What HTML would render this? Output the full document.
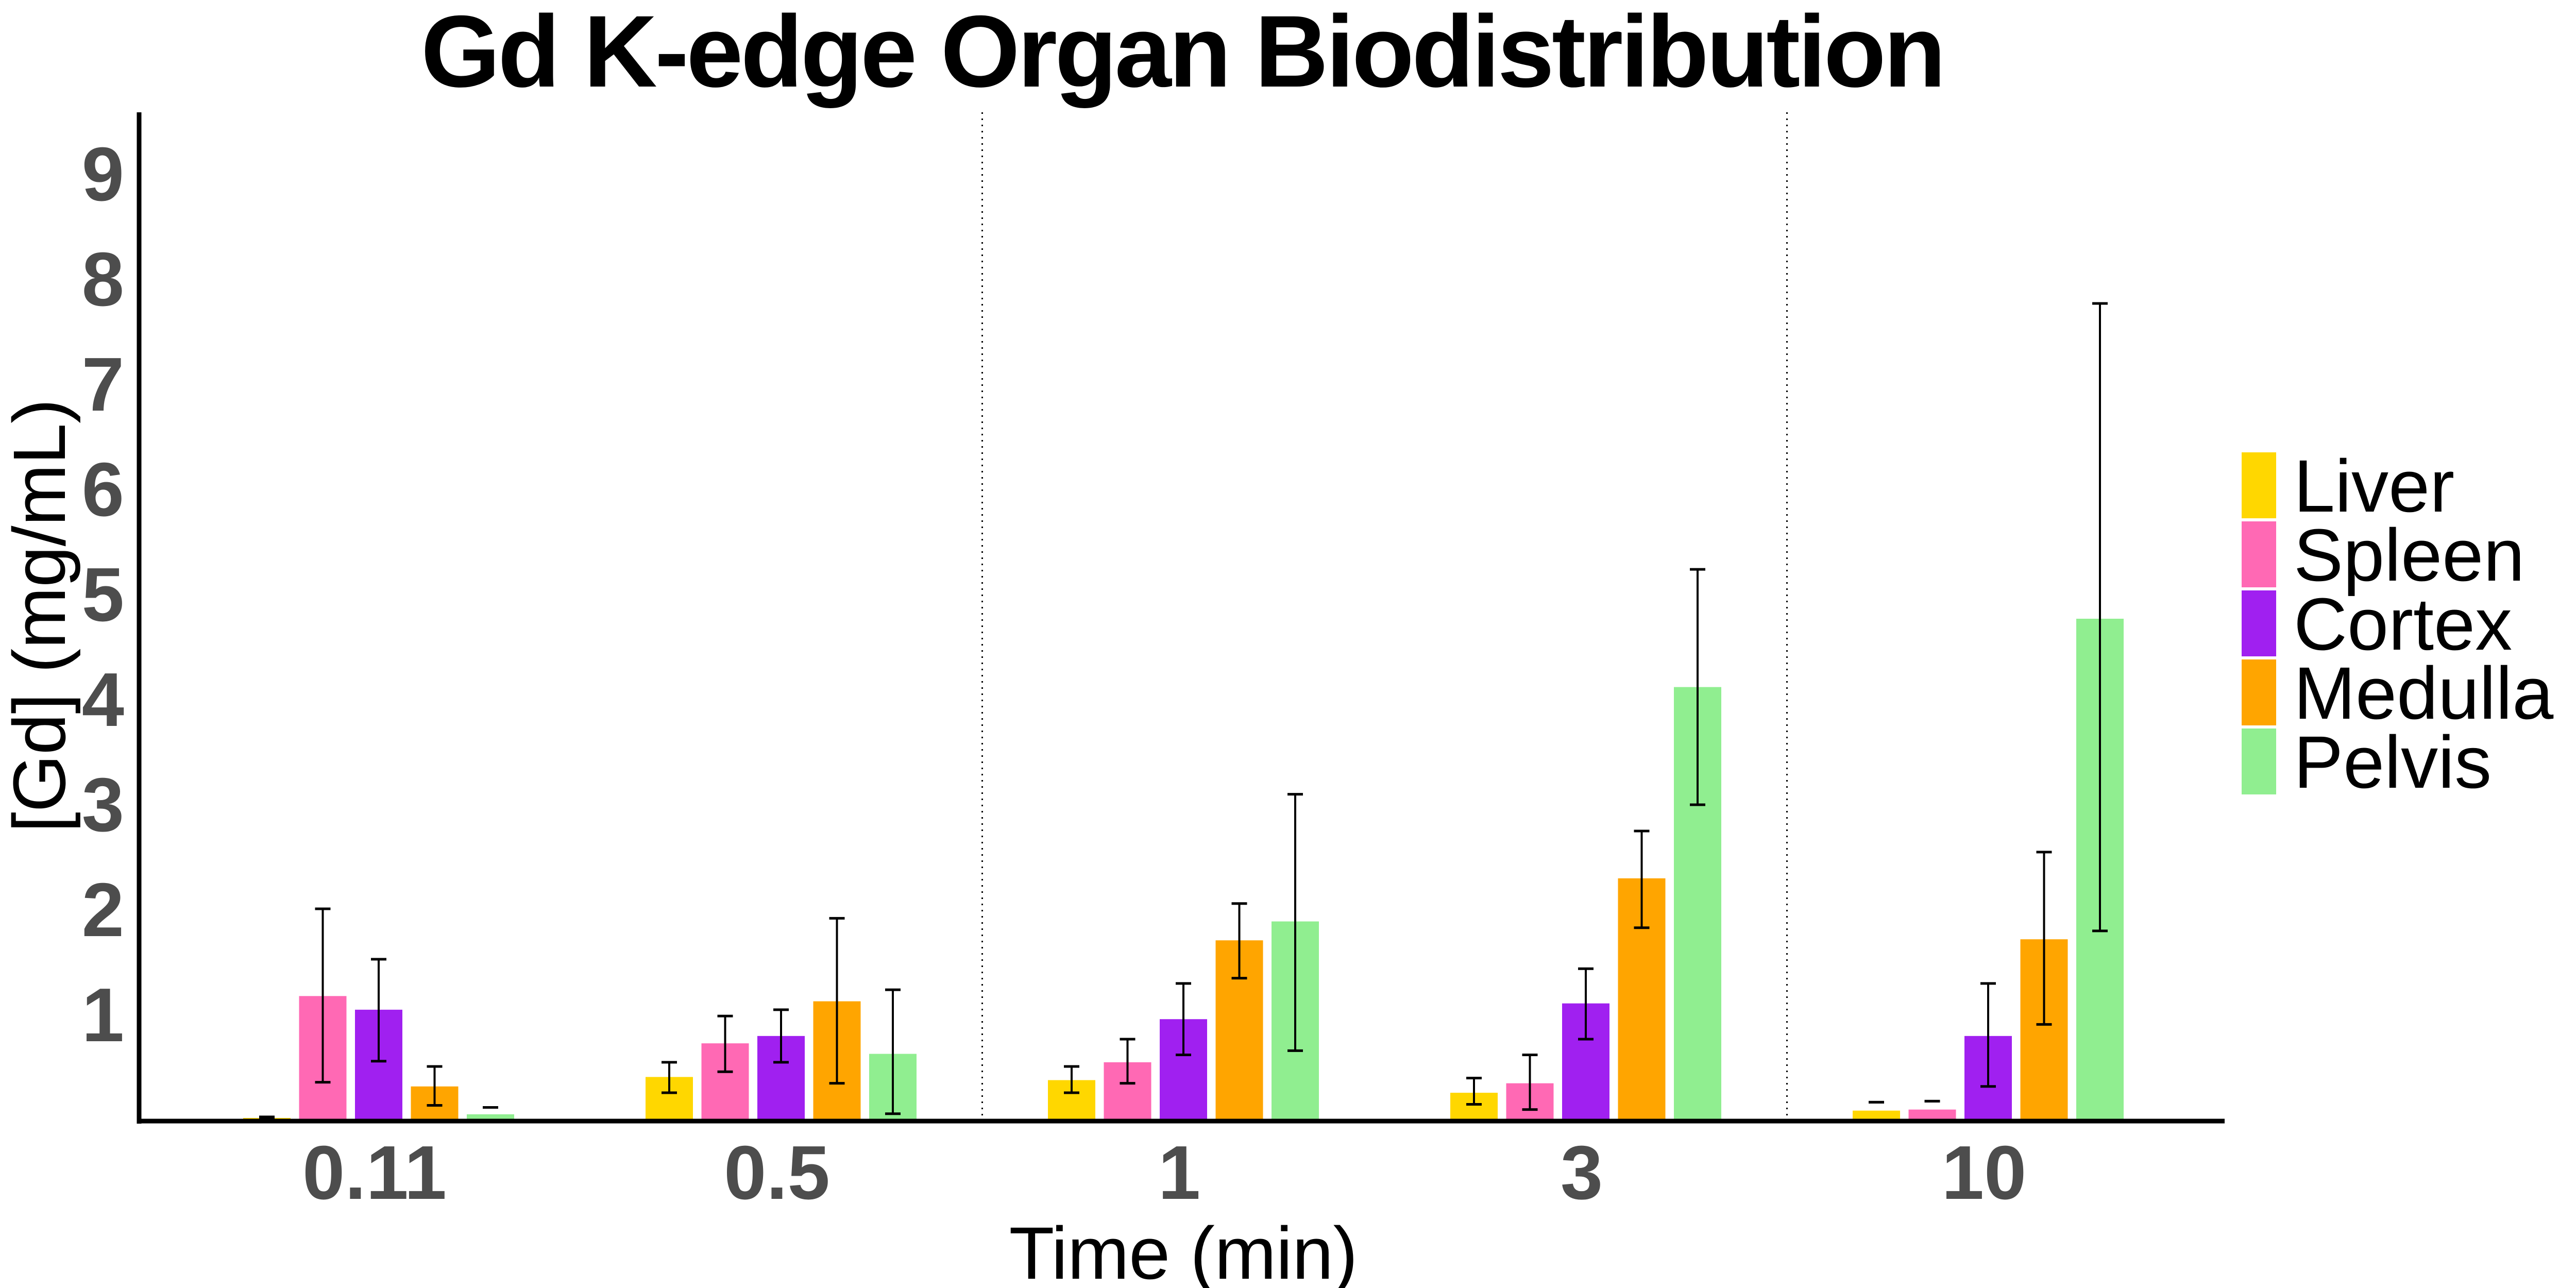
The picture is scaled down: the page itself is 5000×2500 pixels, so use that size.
<!DOCTYPE html>
<html><head><meta charset="utf-8"><style>
html,body{margin:0;padding:0;background:#fff;}
svg{display:block;}
</style></head><body>
<svg id="chart" xmlns="http://www.w3.org/2000/svg" width="5000" height="2500" viewBox="0 0 5000 2500">
<rect x="0" y="0" width="5000" height="2500" fill="#fff"/>
<text x="2297" y="168" text-anchor="middle" font-family="Liberation Sans, sans-serif" font-weight="bold" font-size="198" textLength="2960">Gd K-edge Organ Biodistribution</text>
<text transform="translate(126,1195) rotate(-90)" text-anchor="middle" font-family="Liberation Sans, sans-serif" font-size="144" textLength="842">[Gd] (mg/mL)</text>
<text x="2297" y="2482" text-anchor="middle" font-family="Liberation Sans, sans-serif" font-size="144" textLength="677">Time (min)</text>
<g id="plot"></g>
<g id="legend"></g>
</svg>
<script>
const categories = ["0.11", "0.5", "1", "3", "10"];
const seriesNames = ["Liver", "Spleen", "Cortex", "Medulla", "Pelvis"];
const liverVals   = [0.01, 0.40, 0.37, 0.25, 0.08];
const spleenVals  = [1.17, 0.72, 0.54, 0.34, 0.09];
const cortexVals  = [1.04, 0.79, 0.95, 1.10, 0.79];
const medullaVals = [0.31, 1.12, 1.70, 2.29, 1.71];
const pelvisVals  = [0.045, 0.62, 1.88, 4.11, 4.76];
const liverHi   = [0.02, 0.54, 0.50, 0.39, 0.16];
const liverLo   = [0.01, 0.25, 0.25, 0.14, 0.16];
const spleenHi  = [2.00, 0.98, 0.76, 0.61, 0.17];
const spleenLo  = [0.35, 0.45, 0.34, 0.09, 0.17];
const cortexHi  = [1.52, 1.04, 1.29, 1.43, 1.29];
const cortexLo  = [0.55, 0.54, 0.61, 0.76, 0.31];
const medullaHi = [0.50, 1.91, 2.05, 2.74, 2.54];
const medullaLo = [0.13, 0.34, 1.34, 1.82, 0.90];
const pelvisHi  = [0.11, 1.23, 3.09, 5.23, 7.76];
const pelvisLo  = [0.11, 0.05, 0.65, 2.99, 1.79];
const yTicks = [1, 2, 3, 4, 5, 6, 7, 8, 9];
const separatorsAfter = [1, 3];

const colors = ["#FFD700", "#FF69B4", "#A020F0", "#FFA500", "#90EE90"];
const values = [liverVals, spleenVals, cortexVals, medullaVals, pelvisVals];
const his = [liverHi, spleenHi, cortexHi, medullaHi, pelvisHi];
const los = [liverLo, spleenLo, cortexLo, medullaLo, pelvisLo];

const NS = "http://www.w3.org/2000/svg";
const plot = document.getElementById("plot");
const Y0 = 2172, UNIT = 204, X0 = 735, GROUP = 781, PITCH = 108.5, BW = 92;
function yScale(v){ return Y0 - v * UNIT; }
function xGroup(i){ return X0 + i * GROUP; }
function mk(tag, attrs, parent){
  const e = document.createElementNS(NS, tag);
  for (const k in attrs) e.setAttribute(k, attrs[k]);
  (parent || plot).appendChild(e);
  return e;
}

separatorsAfter.forEach(function(i){
  const x = (xGroup(i) + xGroup(i + 1)) / 2;
  const l = mk("line", {x1:x, x2:x, y1:218, y2:Y0, stroke:"#000", "stroke-width":3, "stroke-dasharray":"3,9"});
  
  
});

for (let s = 0; s < seriesNames.length; s++){
  for (let i = 0; i < categories.length; i++){
    const cx = xGroup(i) + (s - 2) * PITCH;
    const v = values[s][i];
    const r = mk("rect", {x:cx - BW/2, y:yScale(v), width:BW, height:Math.max(0, Y0 - yScale(v)), fill:colors[s]});
    
    
    const yh = yScale(his[s][i]), yl = yScale(los[s][i]);
    const g = mk("g", {stroke:"#000"});
    
    
    mk("line", {x1:cx, x2:cx, y1:yh, y2:yl, "stroke-width":4}, g);
    mk("line", {x1:cx - 15, x2:cx + 15, y1:yh, y2:yh, "stroke-width":5}, g);
    mk("line", {x1:cx - 15, x2:cx + 15, y1:yl, y2:yl, "stroke-width":5}, g);
  }
}

const ya = mk("line", {x1:270, x2:270, y1:218, y2:2181, stroke:"#000", "stroke-width":9});


const xa = mk("line", {x1:266, x2:4318, y1:2176, y2:2176, stroke:"#000", "stroke-width":9});



yTicks.forEach(function(t){
  const e = mk("text", {x:241, y:yScale(t) + 53, "text-anchor":"end", "font-family":"Liberation Sans, sans-serif", "font-weight":"bold", "font-size":148, fill:"#4d4d4d"});
  e.textContent = String(t);
  
  
});
categories.forEach(function(c, i){
  const e = mk("text", {x:xGroup(i) - 8, y:2327, "text-anchor":"middle", "font-family":"Liberation Sans, sans-serif", "font-weight":"bold", "font-size":148, fill:"#4d4d4d"});
  e.textContent = c;
  
  
});

const leg = document.getElementById("legend");
seriesNames.forEach(function(n, s){
  const top = 878 + s * 134;
  const g = mk("g", {}, leg);
  
  
  mk("rect", {x:4351, y:top, width:67, height:128, fill:colors[s]}, g);
  const t = mk("text", {x:4452, y:top + 115, "font-family":"Liberation Sans, sans-serif", "font-size":144, fill:"#000"}, g);
  t.textContent = n;
});
</script>
</body></html>
